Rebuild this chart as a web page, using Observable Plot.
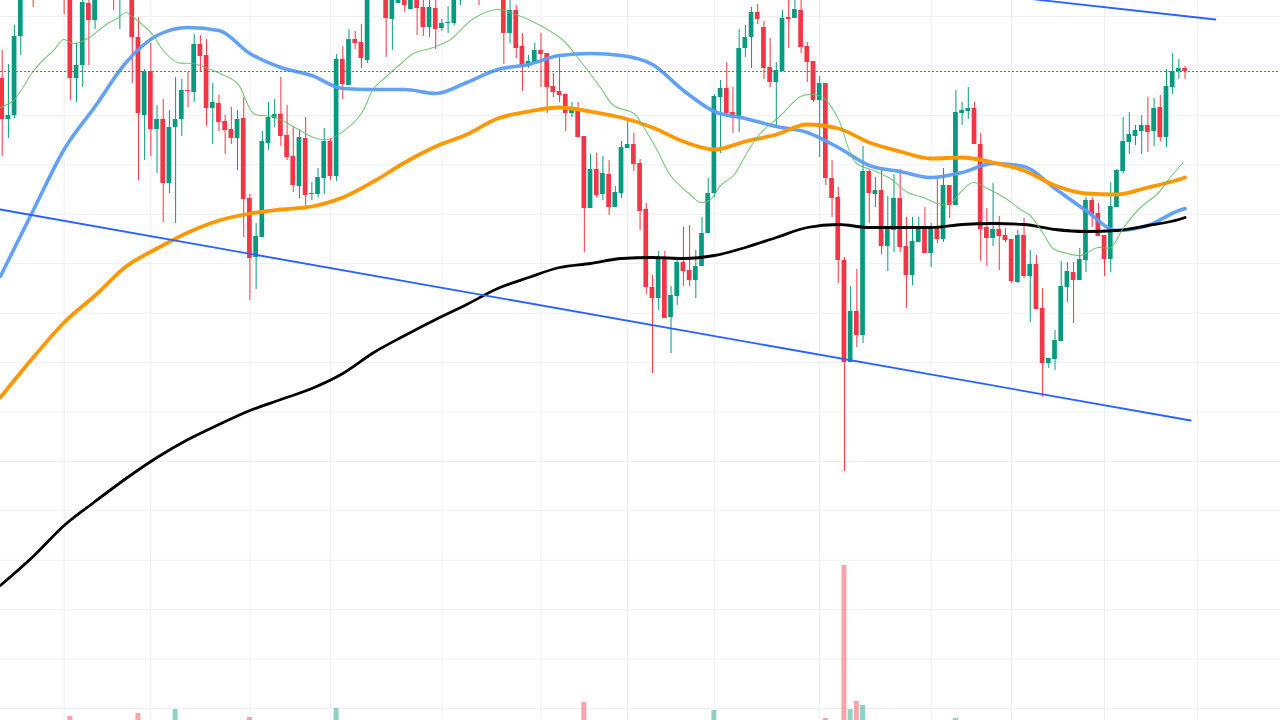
<!DOCTYPE html>
<html><head><meta charset="utf-8">
<script src="https://cdn.jsdelivr.net/npm/d3@7"></script>
<script src="https://cdn.jsdelivr.net/npm/@observablehq/plot@0.6"></script>
<style>
html,body{margin:0;padding:0;background:#fff;}
#chart{position:relative;width:1280px;height:720px;overflow:hidden;background:#fff;}
#chart svg{position:absolute;left:0;top:0;}
</style></head><body><div id="chart"></div>
<script>
// ---- candle data (index 0..191) ----
const open = [922,881,885,964,1008,1030,1015,1040,1050,1040,1030,1010,922,935,997,980,1003,1025,1015,1003,
1018,1010,963,885,929,871,881,817,873,881,910,908,956,945,892,897,879,871,862,882,
802,743,763,857,882,886,865,844,814,862,806,806,822,859,824,941,915,961,958,940,
1012,1028,1020,981,997,1006,991,1004,993,973,992,972,977,977,1008,1015,1030,1025,1008,1025,
1035,1030,967,990,954,934,937,950,947,914,909,906,887,891,864,792,831,806,826,793,
807,852,856,837,791,713,702,743,683,704,738,730,720,734,767,807,903,912,888,884,
952,963,988,973,933,918,929,983,982,990,954,939,900,917,822,803,740,638,689,665,
829,806,810,754,770,802,754,725,758,774,747,773,761,815,795,887,889,892,856,773,
762,771,765,761,718,765,724,736,692,637,641,659,713,728,720,740,800,787,765,741,
793,829,858,864,869,875,869,893,863,913,929,932];
const high = [950,936,975,1015,1030,1040,1045,1060,1065,1055,1040,1015,957,1005,1005,1010,1030,1040,1020,1025,
1030,1015,983,931,957,895,901,890,923,921,928,966,965,961,917,905,885,893,890,903,
806,777,869,898,901,923,895,873,871,883,818,832,872,862,946,954,971,969,976,1020,
1035,1045,1030,1010,1012,1012,1010,1008,1000,1002,1002,981,994,1015,1020,1035,1045,1035,1030,1040,
1045,1040,1003,995,967,945,957,967,947,927,946,906,898,898,864,846,847,844,840,814,
859,881,867,841,797,725,749,749,714,743,773,775,750,783,822,906,920,938,913,971,
975,993,996,979,962,938,990,1002,1003,1004,958,939,924,917,840,813,743,714,731,854,
830,823,833,804,826,831,783,783,783,793,777,822,832,815,910,898,913,898,867,792,
817,784,772,761,770,782,750,745,712,642,670,739,738,738,752,803,803,797,765,818,
831,883,888,875,885,903,902,905,931,947,941,934];
const low = [844,862,882,945,1002,993,1008,1030,1035,1020,986,900,898,913,935,971,1001,1005,990,971,
1005,917,820,840,844,827,778,807,777,864,893,898,928,874,856,869,846,856,830,763,
700,711,763,850,873,854,840,808,802,792,800,803,806,820,819,901,915,951,932,937,
1005,1010,943,950,997,988,991,965,964,963,951,969,967,975,995,1005,1015,995,1003,1010,
1020,936,957,942,909,932,937,913,887,903,898,869,883,863,748,792,803,800,785,793,
802,852,829,770,706,627,690,682,647,695,714,714,702,734,767,803,847,885,867,868,
943,932,976,921,913,872,929,952,982,947,918,898,843,815,783,717,529,638,653,657,
777,793,746,729,748,748,692,715,758,747,733,757,758,782,795,875,881,856,739,734,
754,730,758,717,717,722,678,691,603,632,630,659,698,677,720,728,773,764,724,728,
793,827,846,855,846,848,854,859,853,906,921,921];
const close = [881,885,964,1008,1020,1015,1040,1050,1040,1030,1010,922,935,998,980,1003,1025,1015,1003,1018,
1010,963,887,929,871,881,817,873,881,910,909,956,944,892,898,878,870,862,881,801,
742,764,859,883,886,864,843,815,863,805,807,823,859,824,941,916,961,957,942,1012,
1028,1020,982,1005,1006,995,1004,992,973,993,971,977,978,1008,1015,1030,1025,1008,1025,1035,
1030,967,990,952,934,939,950,946,913,908,905,887,891,863,792,831,805,827,793,808,
853,856,836,789,713,702,743,682,705,738,729,720,734,767,807,904,912,887,884,952,
963,988,981,932,918,930,982,981,991,953,938,900,917,822,802,740,638,689,665,829,
807,810,754,771,802,753,725,759,774,747,773,761,815,795,888,890,892,856,771,762,
771,764,760,719,765,724,736,691,637,642,660,714,729,720,741,800,786,764,741,794,
830,859,866,870,875,868,892,863,914,929,932,929];
// volume (only bars tall enough to be visible; others 0)
const volume = [0,0,0,0,0,0,0,0,0,0,0,4,0,0,0,0,0,0,0,0,
0,0,7,0,0,0,0,0,11,0,0,0,0,0,0,0,0,0,0,0,
3,0,0,0,0,0,0,0,0,0,0,0,0,0,12,0,0,0,0,0,
0,0,0,0,0,0,0,0,0,0,0,0,0,0,0,0,0,0,0,0,
0,0,0,0,0,0,0,0,0,0,0,0,0,0,18,0,0,0,0,0,
0,0,0,0,0,0,0,0,0,0,0,0,0,0,0,10,0,0,0,0,
0,0,0,0,0,0,0,0,0,0,0,0,0,2,0,0,155,11,19,15,
0,0,0,0,0,0,0,0,0,0,0,0,0,0,2,0,0,0,0,0,
0,0,0,0,0,0,0,0,0,0,0,0,0,0,0,0,0,0,0,0,
0,0,0,0,0,0,0,0,0,0,0,0];
// moving averages sampled at candle indexes
const maIndex = [-0.3,5,10,15,20,25,30,35,40,45,50,55,60,65,70,75,80,85,90,95,100,105,110,115,120,125,130,135,140,145,150,155,160,165,170,175,180,185,190,191];
const ma200 = [415,444,475,499,522,543,561,576,590,601,612,627,648,665,681,696,712,723,733,737,742,743,742,745,753,763,773,776,773,773,773,776,777,776,771,769,770,775,781,783];
const ma100 = [603,643,678,705,734,752,768,780,787,791,794,803,819,838,854,866,882,889,893,889,883,873,859,851,859,866,876,872,858,849,842,843,838,830,815,807,806,813,821,823];
const ma50 = [724,790,851,894,938,965,973,970,947,933,925,912,911,911,907,918,931,936,945,947,945,936,910,889,882,874,868,853,835,829,823,828,837,834,812,790,770,775,790,792];
const ma20Index = [-0.3,1.8,5.1,6.7,8.3,9.9,11.5,13.8,17.0,18.6,19.9,21.2,22.8,24.4,26.0,28.3,30.9,33.2,35.2,38.0,40.6,43.8,47.0,50.3,52.7,54.6,57.9,60.0,62.2,64.8,66.4,69.6,72.4,76.1,80.0,82.1,86.9,90.6,93.9,96.6,98.7,102.0,103.6,105.8,107.9,110.7,112.8,114.4,116.0,118.1,120.3,122.4,125.7,128.9,131.0,132.6,134.9,137.8,140.7,143.4,146.2,148.8,151.0,153.1,154.7,156.7,159.1,162.3,164.4,166.0,168.1,169.7,172.0,174.1,176.9,179.0,181.1,183.8,186.6,188.6,190.7];
const ma20 = [893,900,930,941,950,961,957,962,977,982,988,983,975,965,950,938,937,932,927,917,887,884,874,863,861,867,886,912,925,939,947,953,961,982,991,988,975,960,935,913,895,887,873,850,825,808,798,801,815,825,848,867,885,904,906,903,883,838,830,822,808,803,797,797,808,818,812,801,791,785,767,752,747,745,753,753,773,793,807,823,838];
// trend lines (candle index, price)
const supportIndex = [-0.3, 191.9];
const supportPrice = [791, 580];
const resistIndex = [140, 195.9];
const resistPrice = [1019.5, 981];
// grid ticks
const gridIndex = [10,24,40,53,71,87,101,115,132,150,163,178,193];
const gridPrice = [984,934.6,885.1,835.7,786.3,736.9,687.4,638.0,588.6,539.1,489.7,440.3,390.8,341.4,292.0];

const UP = "#089981", DOWN = "#F23645";
const W = 1280, H = 720;
const xDomain = [-0.2745, 206.41];

const candles = open.map((o, i) => ({i, o, h: high[i], l: low[i], c: close[i], v: volume[i], up: close[i] >= o}));
const bodies = candles.map(d => {
  const lo = Math.min(d.o, d.c), hi = Math.max(d.o, d.c);
  return {...d, b1: lo, b2: Math.max(hi, lo + 1)};
});
const pts = (xs, ys) => xs.map((x, k) => ({x, y: ys[k]}));
const lastClose = close[close.length - 1];

const volPlot = Plot.plot({
  width: W, height: H, margin: 0,
  style: {background: "transparent"},
  x: {domain: xDomain, axis: null},
  y: {domain: [0, H], axis: null},
  color: {type: "identity"},
  marks: [
    Plot.ruleX(gridIndex, {stroke: "#eef0f3", strokeWidth: 1}),
    Plot.ruleY(gridPrice.map(p => p - 280), {stroke: "#eef0f3", strokeWidth: 1}),
    Plot.rect(candles.filter(d => d.v > 0), {
      x1: d => d.i - 0.4, x2: d => d.i + 0.4, y1: 0, y2: "v",
      fill: d => d.up ? "rgba(8,153,129,0.45)" : "rgba(242,54,69,0.45)"
    })
  ]
});

const pricePlot = Plot.plot({
  width: W, height: H, margin: 0,
  style: {background: "transparent"},
  x: {domain: xDomain, axis: null},
  y: {domain: [280, 1000], axis: null},
  color: {type: "identity"},
  marks: [
    Plot.ruleX(candles, {x: "i", y1: "l", y2: "h", stroke: d => d.up ? UP : DOWN, strokeWidth: 1, clip: true}),
    Plot.rect(bodies, {x1: d => d.i - 0.38, x2: d => d.i + 0.38, y1: "b1", y2: "b2", fill: d => d.up ? UP : DOWN, clip: true}),
    Plot.line(pts(maIndex, ma50), {x: "x", y: "y", stroke: "#5b9cf6", strokeWidth: 3.6, strokeOpacity: 0.95, curve: "monotone-x", clip: true}),
    Plot.line(pts(maIndex, ma100), {x: "x", y: "y", stroke: "#ff9800", strokeWidth: 3.8, curve: "monotone-x", clip: true}),
    Plot.line(pts(maIndex, ma200), {x: "x", y: "y", stroke: "#000000", strokeWidth: 2.8, curve: "monotone-x", clip: true}),
    Plot.line(pts(ma20Index, ma20), {x: "x", y: "y", stroke: "#66bb6a", strokeWidth: 1.1, strokeOpacity: 0.85, curve: "catmull-rom", clip: true}),
    Plot.line(pts(supportIndex, supportPrice), {x: "x", y: "y", stroke: "#2962FF", strokeWidth: 1.8, clip: true}),
    Plot.line(pts(resistIndex, resistPrice), {x: "x", y: "y", stroke: "#2962FF", strokeWidth: 1.8, clip: true}),
    Plot.ruleY([lastClose], {stroke: DOWN, strokeWidth: 1, strokeDasharray: "2,2"})
  ]
});

const root = document.getElementById("chart");
root.appendChild(volPlot);
root.appendChild(pricePlot);
</script>
</body></html>
